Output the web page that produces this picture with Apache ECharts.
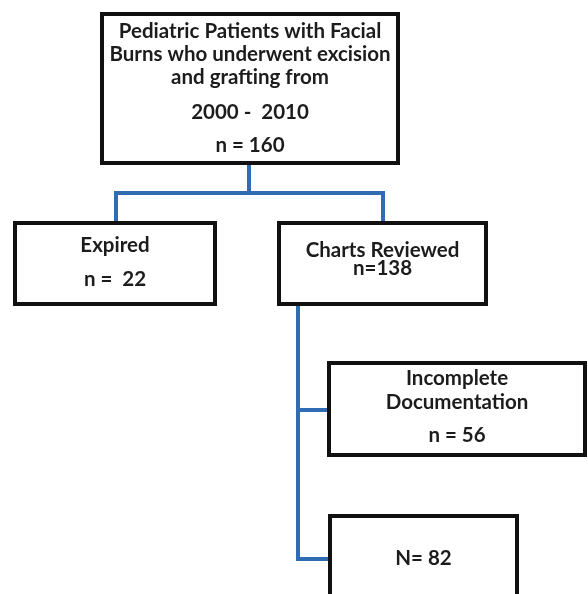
<!DOCTYPE html>
<html>
<head>
<meta charset="utf-8">
<script src="https://cdn.jsdelivr.net/npm/echarts@6/dist/echarts.min.js"></script>
<style>
html,body{margin:0;padding:0;background:#ffffff;}
#chart{width:588px;height:594px;}
</style>
</head>
<body>
<div id="chart"></div>
<script>
// ---- content ----
const boxTitles = [
  ["Pediatric Patients with Facial", "Burns who underwent excision", "and grafting from"],
  ["Expired"],
  ["Charts Reviewed"],
  ["Incomplete", "Documentation"],
  []
];
const periodLabels = ["2000 -  2010", null, null, null, null];
const countPrefixes = ["n = ", "n =  ", "n=", "n = ", "N= "];
const counts = [160, 22, 138, 56, 82];

// ---- layout (separate from data) ----
const boxRects = [
  [102, 14, 398, 163],
  [15, 223, 215, 304],
  [279, 223, 486, 304],
  [329, 363, 585, 455],
  [330, 516, 517, 625]
];
const lineYs = [
  [31, 54, 77, 112, 145],
  [245, 279],
  [250, 268],
  [378, 402, 435],
  [558]
];
const connectors = [
  [[249, 163], [249, 193]],
  [[116, 223], [116, 193], [383, 193], [383, 223]],
  [[298, 304], [298, 559], [330, 559]],
  [[298, 410], [329, 410]]
];

function linesFor(i) {
  const arr = boxTitles[i].slice();
  if (periodLabels[i]) arr.push(periodLabels[i]);
  arr.push(countPrefixes[i] + counts[i]);
  return arr;
}

const chart = echarts.init(document.getElementById('chart'), null, {renderer: 'canvas'});
const option = {
  backgroundColor: '#ffffff',
  animation: false,
  grid: {left: 0, right: 0, top: 0, bottom: 0},
  xAxis: {type: 'value', min: 0, max: 588, show: false},
  yAxis: {type: 'value', min: 0, max: 594, inverse: true, show: false},
  series: [
    {
      type: 'custom',
      coordinateSystem: 'cartesian2d',
      data: connectors.map((c, i) => [i]),
      renderItem: function (params, api) {
        const pts = connectors[params.dataIndex].map(p => api.coord(p));
        return {
          type: 'polyline',
          shape: {points: pts},
          style: {stroke: '#2f6cb3', lineWidth: 4, fill: null, lineJoin: 'miter', lineCap: 'butt'}
        };
      },
      z: 1
    },
    {
      type: 'custom',
      coordinateSystem: 'cartesian2d',
      data: counts.map((v, i) => [i, v]),
      renderItem: function (params, api) {
        const i = params.dataIndex;
        const r = boxRects[i];
        const p0 = api.coord([r[0], r[1]]);
        const p1 = api.coord([r[2], r[3]]);
        const cx = (p0[0] + p1[0]) / 2;
        const children = [{
          type: 'rect',
          shape: {x: p0[0], y: p0[1], width: p1[0] - p0[0], height: p1[1] - p0[1]},
          style: {fill: '#ffffff', stroke: '#111111', lineWidth: 4}
        }];
        const ls = linesFor(i);
        ls.forEach((t, k) => {
          const yy = api.coord([0, lineYs[i][k]])[1];
          children.push({
            type: 'text',
            x: cx, y: yy,
            style: {
              text: t, align: 'center', verticalAlign: 'middle',
              fill: '#1c1c1c', font: 'bold 20.5px Lato'
            }
          });
        });
        return {type: 'group', children: children};
      },
      z: 2
    }
  ]
};
chart.setOption(option);
</script>
</body>
</html>
